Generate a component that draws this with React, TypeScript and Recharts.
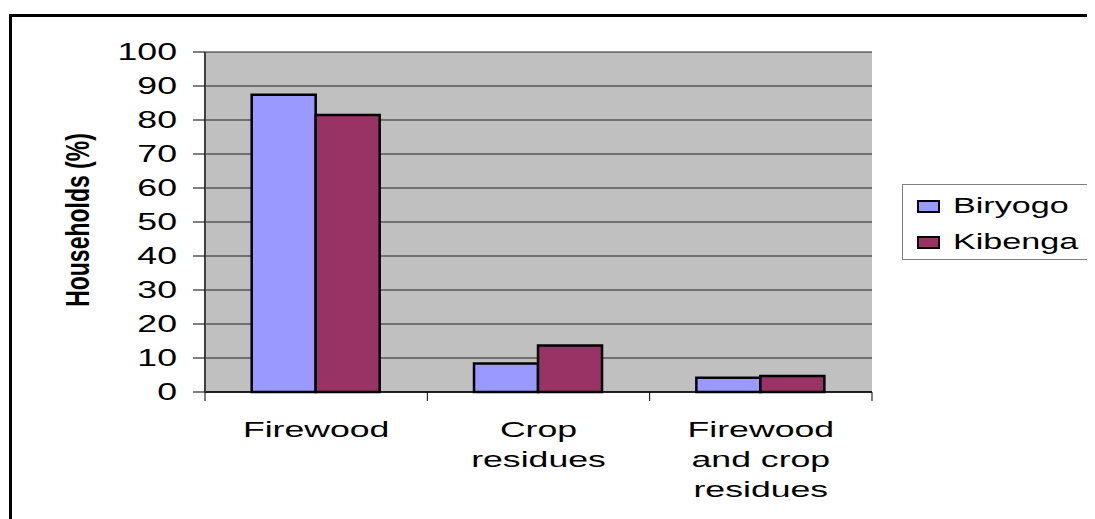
import React from 'react';
import { BarChart, Bar, XAxis, YAxis, CartesianGrid, Legend } from 'recharts';

const categories = ['Firewood', 'Crop residues', 'Firewood and crop residues'];
const categoryLines = [['Firewood'], ['Crop', 'residues'], ['Firewood', 'and crop', 'residues']];
const biryogo = [87.4, 8.4, 4.2];
const kibenga = [81.5, 13.7, 4.7];
const yTicks = [0, 10, 20, 30, 40, 50, 60, 70, 80, 90, 100];

const seriesList = [
    { key: 'Biryogo', color: '#9999FF' },
    { key: 'Kibenga', color: '#993366' },
];

const data = categories.map((name, i) => ({ name, Biryogo: biryogo[i], Kibenga: kibenga[i] }));

const FONT = '"Liberation Sans", Arial, sans-serif';

function YTick({ x, y, payload }: any) {
    return (
        <g transform={`translate(${x},${y})`}>
            <text textAnchor="end" dy="0.36em" fontSize={23} fontFamily={FONT} fill="#000" transform="scale(1.55,1)">
                {payload.value}
            </text>
        </g>
    );
}

function XTick({ x, y, payload, index, visibleTicksCount }: any) {
    const lines = categoryLines[index] ?? [payload.value];
    const half = typeof payload.offset === 'number' ? payload.offset : 0;
    const isLast = index === (visibleTicksCount ?? categories.length) - 1;
    return (
        <g>
            {half ? <line x1={x - half} x2={x - half} y1={y} y2={y + 9} stroke="#000" strokeWidth={1} /> : null}
            {half && isLast ? <line x1={x + half} x2={x + half} y1={y} y2={y + 9} stroke="#000" strokeWidth={1} /> : null}
            <g transform={`translate(${x},${y + 45})`}>
                <text textAnchor="middle" fontSize={22} fontFamily={FONT} fill="#000" transform="scale(1.62,1)">
                    {lines.map((l: string, i: number) => (
                        <tspan key={i} x={0} dy={i === 0 ? 0 : 30}>{l}</tspan>
                    ))}
                </text>
            </g>
        </g>
    );
}

function YTitle({ viewBox }: any) {
    const cy = viewBox.y + viewBox.height / 2 - 2;
    return (
        <g transform={`translate(69,${cy}) rotate(-90) scale(1,1.45)`}>
            <text textAnchor="middle" dy="0.36em" fontSize={23} fontWeight="bold" fontFamily={FONT} fill="#000">
                Households (%)
            </text>
        </g>
    );
}

function LegendBox() {
    return (
        <div style={{ position: 'relative', width: 190, height: 74, border: '1px solid #808080', background: '#fff', fontFamily: FONT, fontSize: 22, color: '#000' }}>
            {seriesList.map((s, i) => (
                <div key={s.key} style={{ position: 'absolute', left: 14, top: 6 + i * 36, height: 30, display: 'flex', alignItems: 'center' }}>
                    <span style={{ display: 'inline-block', width: 19, height: 9, background: s.color, border: '2px solid #000' }} />
                    <span style={{ display: 'inline-block', marginLeft: 13, transform: 'scale(1.55,1)', transformOrigin: 'left center', lineHeight: '30px' }}>
                        {s.key}
                    </span>
                </div>
            ))}
        </div>
    );
}

export default function App() {
    return (
        <div style={{ position: 'relative', width: 1087, height: 511, overflow: 'hidden', background: '#fff' }}>
            <div style={{ position: 'absolute', left: 1, top: 6, width: 1300, height: 800, borderTop: '3px solid #000', borderLeft: '3px solid #000' }} />
            <div style={{ position: 'absolute', left: 0, top: 0 }}>
                <BarChart
                    width={1087}
                    height={511}
                    data={data}
                    margin={{ top: 44, right: 223, bottom: 27, left: 137 }}
                    barCategoryGap="21%"
                    barGap={0}
                >
                    <CartesianGrid vertical={false} fill="#C0C0C0" stroke="#222" strokeWidth={1} fillOpacity={1} />
                    <XAxis
                        dataKey="name"
                        height={100}
                        tickLine={false}
                        tickSize={0}
                        tickMargin={0}
                        axisLine={{ stroke: '#000', strokeWidth: 1.5 }}
                        tick={<XTick />}
                        interval={0}
                    />
                    <YAxis
                        width={60}
                        domain={[0, 100]}
                        ticks={yTicks}
                        interval={0}
                        tickSize={12}
                        tickMargin={16}
                        tickLine={{ stroke: '#000' }}
                        axisLine={{ stroke: '#404040', strokeWidth: 2 }}
                        tick={<YTick />}
                        label={<YTitle />}
                    />
                    <YAxis
                        yAxisId="frame"
                        orientation="right"
                        width={0}
                        domain={[0, 100]}
                        tick={false}
                        tickLine={false}
                        axisLine={{ stroke: '#404040', strokeWidth: 2 }}
                    />
                    <Legend
                        layout="horizontal"
                        align="center"
                        verticalAlign="middle"
                        content={<LegendBox />}
                        wrapperStyle={{ position: 'absolute', left: 894, top: 176, width: 192, height: 76 }}
                    />
                    {seriesList.map((s) => (
                        <Bar key={s.key} dataKey={s.key} fill={s.color} stroke="#000" strokeWidth={2.5} isAnimationActive={false} />
                    ))}
                </BarChart>
            </div>
        </div>
    );
}
